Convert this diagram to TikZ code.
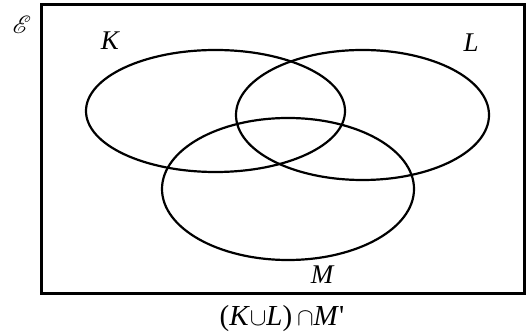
\documentclass[tikz,border=0pt]{standalone}
\usepackage{fontspec}
\usepackage{mathrsfs}
\usetikzlibrary{shapes.geometric}
\setmainfont{Liberation Serif}
\begin{document}
\begin{tikzpicture}[x=1pt,y=-1pt,
  setline/.style={line width=2.2pt},
  lbl/.style={font=\fontsize{27}{29}\selectfont\itshape, inner sep=0pt}]
\useasboundingbox (0,0) rectangle (526,336);
\draw[line width=3pt] (41,5) rectangle (524,293);
\node[setline, draw, ellipse, minimum width=259pt, minimum height=122pt, inner sep=0pt] (K) at (215.5,111) {};
\node[setline, draw, ellipse, minimum width=253pt, minimum height=130pt, inner sep=0pt] (L) at (362.5,115) {};
\node[setline, draw, ellipse, minimum width=252pt, minimum height=142pt, inner sep=0pt] (M) at (288,189) {};
\node[lbl] (kl) at (110,41) {K};
\node[lbl] (ll) at (471,43) {L};
\node[lbl] (ml) at (322,275) {M};
\node[inner sep=0pt, font=\fontsize{30}{32}\selectfont] (E) at (22,25) {$\mathscr{E}$};
\node[inner sep=0pt, font=\fontsize{29}{31}\selectfont] (cap) at (282,319) {(\textit{K}$\cup$\textit{L})\,$\cap$\textit{M}\textquotesingle};
\end{tikzpicture}
\end{document}
